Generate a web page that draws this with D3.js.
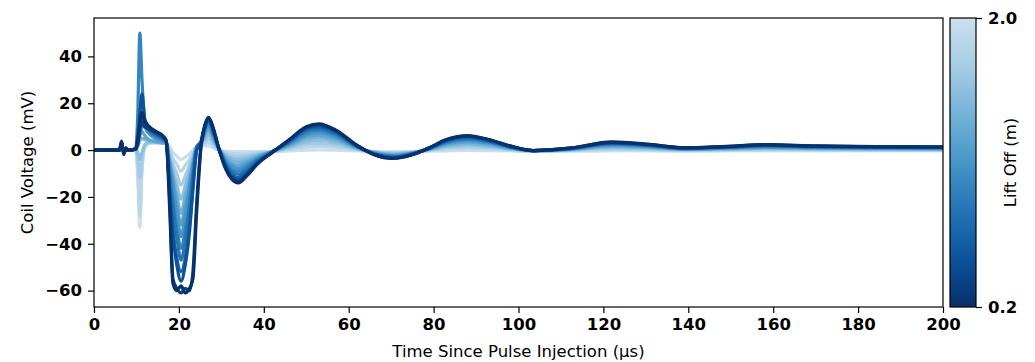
<html>
<head>
<style>
  body { margin: 0; background: #fff; }
  text { font-family: "DejaVu Sans", sans-serif; }
</style>
</head>
<body>
<script src="https://d3js.org/d3.v7.min.js"></script>
<div id="my_dataviz"></div>
<script>
// sample times (µs), shared by all curves
var timeUs = [0, 6, 6.5, 7, 7.5, 8,
  9.8, 10.3, 10.8, 11.3, 12, 13,
  14.5, 16, 17, 17.8, 18.6, 19.5,
  20.5, 21.5, 22.5, 23.3, 24.2, 25.2,
  26.2, 27, 28, 29.5, 31, 32.5,
  34, 36, 38.5, 42, 46, 50,
  53, 57, 62, 66, 70.5, 75,
  79, 83, 88, 93, 98, 103.5,
  112, 122, 131, 139, 149, 158.5,
  170, 185, 200];

// lift off of each curve (m)
var liftOff = [0.2, 0.35, 0.5, 0.65, 0.8, 0.95, 1.1, 1.25, 1.4, 1.55, 1.7, 1.85, 2.0];

// coil voltage (mV), one array per lift off
var v020 = [0, 0, 3.5, -1.5, 1, 0,
  0.5, 4, 12, 16, 12, 10,
  8, 6.5, 4, -24, -57, -60,
  -58, -61, -59, -55, -26, 1,
  11, 14, 10, 0, -8, -12.5,
  -14, -11, -6, -1, 4.5, 10,
  11.2, 8.5, 2, -2, -3.6, -2,
  1, 4.5, 6.2, 4.5, 1.8, -0.2,
  0.8, 3.5, 2.4, 1, 1.6, 2.3,
  1.8, 1.5, 1.4];
var v035 = [0, 0, 3.8, -2, 0.8, 0,
  0.5, 3, 9, 12, 10, 9,
  7.5, 6, 4, -20, -55, -59,
  -61, -59, -60, -52, -22, 2,
  11, 13.8, 9.6, 0, -7.6, -12,
  -13.4, -10.5, -5.7, -1, 4.3, 9.7,
  10.9, 8.2, 1.9, -1.9, -3.5, -1.9,
  1, 4.4, 6, 4.4, 1.7, -0.2,
  0.8, 3.3, 2.3, 0.9, 1.5, 2.2,
  1.7, 1.4, 1.3];
var v050 = [0, 0, 3.2, -1.2, 0.6, 0,
  0.5, 6, 16, 24, 13, 10,
  8, 6, 4, -17, -36, -49,
  -56, -49, -35, -17, 0, 3,
  10.8, 13.5, 9.2, 0, -7.2, -11.4,
  -12.6, -10, -5.4, -0.9, 4.1, 9.3,
  10.4, 7.9, 1.8, -1.8, -3.3, -1.8,
  0.9, 4.2, 5.8, 4.2, 1.6, -0.2,
  0.7, 3.2, 2.2, 0.9, 1.4, 2.1,
  1.6, 1.3, 1.2];
var v065 = [0, 0, 3, -1, 0.5, 0,
  0.4, 3, 10, 14, 11, 9,
  7, 5.5, 4, -16, -34, -46,
  -52, -46, -32, -16, 0, 3.5,
  10.2, 13, 8.7, 0.2, -6.6, -10.5,
  -11.6, -9.2, -5, -0.8, 3.8, 8.8,
  9.8, 7.5, 1.7, -1.7, -3.1, -1.7,
  0.8, 3.9, 5.4, 4, 1.5, -0.2,
  0.7, 3, 2.1, 0.8, 1.3, 2,
  1.5, 1.2, 1.1];
var v080 = [0, 0, 2.6, -0.8, 0.4, 0,
  0.4, 2.5, 7, 10, 10, 8,
  6.5, 5, 3.5, -10, -24, -37,
  -47, -38, -24, -11, 1, 3.5,
  9.6, 12.4, 8.1, 0.3, -5.9, -9.4,
  -10.3, -8.2, -4.5, -0.7, 3.5, 8.1,
  9.1, 6.9, 1.6, -1.6, -2.9, -1.6,
  0.7, 3.6, 5, 3.7, 1.4, -0.2,
  0.6, 2.8, 1.9, 0.7, 1.2, 1.8,
  1.4, 1.1, 1];
var v095 = [0, 0, 2.3, -0.6, 0.3, 0,
  0.5, 15, 50, 30, 12, 8,
  6, 4.5, 3.5, -9, -22, -33,
  -42, -34, -22, -10, 1, 3.5,
  9, 11.6, 7.4, 0.3, -5.1, -8.2,
  -9, -7.2, -4, -0.7, 3.1, 7.3,
  8.3, 6.3, 1.4, -1.5, -2.7, -1.5,
  0.6, 3.3, 4.6, 3.4, 1.2, -0.2,
  0.5, 2.5, 1.7, 0.6, 1.1, 1.6,
  1.2, 1, 0.9];
var v110 = [0, 0, 2, -0.5, 0.3, 0,
  0.4, 4, 14, 20, 10, 7,
  5, 4, 3, -6, -15, -26,
  -37, -27, -16, -7, 1.5, 3.5,
  8.2, 10.6, 6.6, 0.3, -4.4, -7,
  -7.8, -6.2, -3.5, -0.6, 2.7, 6.5,
  7.4, 5.6, 1.2, -1.3, -2.5, -1.4,
  0.5, 2.9, 4.1, 3, 1.1, -0.2,
  0.4, 2.2, 1.5, 0.5, 0.9, 1.4,
  1, 0.8, 0.7];
var v125 = [0, 0, 1.7, -0.4, 0.2, 0,
  0.3, 2, 6, 8, 6, 4.5,
  3.8, 3.3, 3, -5, -13, -22,
  -32, -23, -14, -6, 1.5, 3.3,
  7.2, 9.4, 5.8, 0.3, -3.7, -5.9,
  -6.5, -5.2, -3, -0.6, 2.3, 5.6,
  6.4, 4.8, 1, -1.2, -2.2, -1.3,
  0.4, 2.5, 3.5, 2.6, 0.9, -0.2,
  0.3, 1.9, 1.3, 0.4, 0.8, 1.2,
  0.9, 0.7, 0.6];
var v140 = [0, 0, 1.4, -0.3, 0.2, 0,
  0.3, 1.5, 4, 5, 4.5, 4,
  3.5, 3.2, 3, -4, -11, -19,
  -27, -19, -12, -5, 1.5, 3,
  6.2, 8, 4.9, 0.2, -2.9, -4.7,
  -5.2, -4.2, -2.5, -0.6, 1.8, 4.6,
  5.3, 4, 0.8, -1, -1.9, -1.1,
  0.3, 2, 2.9, 2.1, 0.7, -0.3,
  0.2, 1.5, 1, 0.3, 0.6, 0.9,
  0.7, 0.5, 0.4];
var v155 = [0, 0, 1.1, -0.2, 0.1, 0,
  0.2, -1, -4, -1, 2.5, 3.5,
  3.3, 3, 3, -3, -9, -14.5,
  -21, -15, -9, -3.5, 1.5, 2.8,
  5, 6.4, 3.9, 0.2, -2.2, -3.5,
  -4, -3.2, -2, -0.6, 1.3, 3.5,
  4.1, 3.1, 0.6, -0.9, -1.6, -1,
  0.2, 1.5, 2.2, 1.6, 0.5, -0.3,
  0.1, 1.1, 0.7, 0.2, 0.4, 0.7,
  0.5, 0.3, 0.3];
var v170 = [0, 0, 0.9, -0.2, 0.1, 0,
  0.2, -3, -12, -4, 2, 3.2,
  3.2, 3, 3, -1.5, -6, -10,
  -15, -11, -6.5, -2.5, 1.5, 2.5,
  3.8, 4.8, 2.9, 0.1, -1.5, -2.4,
  -2.8, -2.3, -1.5, -0.6, 0.8, 2.4,
  2.9, 2.1, 0.3, -0.8, -1.3, -0.9,
  0, 1, 1.5, 1.1, 0.3, -0.4,
  0, 0.7, 0.4, 0, 0.2, 0.4,
  0.3, 0.1, 0.1];
var v185 = [0, 0, 0.7, -0.1, 0.1, 0,
  0.2, -8, -28, -9, 1.5, 3,
  3.2, 3.2, 3, 0, -3.5, -6,
  -9, -6.5, -4, -1, 1.5, 2.2,
  2.7, 3.2, 1.9, 0, -0.9, -1.4,
  -1.6, -1.4, -1, -0.6, 0.3, 1.2,
  1.6, 1.1, 0, -0.7, -1, -0.8,
  -0.2, 0.4, 0.8, 0.5, 0, -0.5,
  -0.2, 0.3, 0.1, -0.2, 0, 0.1,
  0, -0.1, -0.1];
var v200 = [0, 0, 0.5, -0.1, 0, 0,
  0.2, -12, -33, -8, 1, 2.8,
  3.3, 3.4, 3, 1.5, -1, -2.5,
  -4, -3, -1.5, 0, 1.5, 2,
  1.8, 1.8, 1, -0.2, -0.5, -0.6,
  -0.6, -0.6, -0.6, -0.6, -0.3, 0,
  0.1, 0, -0.4, -0.6, -0.7, -0.7,
  -0.5, -0.3, -0.1, -0.2, -0.4, -0.6,
  -0.5, -0.3, -0.4, -0.5, -0.4, -0.3,
  -0.4, -0.4, -0.4];
var voltages = [v020, v035, v050, v065, v080, v095, v110, v125, v140, v155, v170, v185, v200];

// tick labels
var xTicks = [0, 20, 40, 60, 80, 100, 120, 140, 160, 180, 200];
var yTicks = [-60, -40, -20, 0, 20, 40];
var cbarTicks = [0.2, 2.0];

// set the dimensions and margins of the graph
var margin = {top: 18, right: 92, bottom: 55, left: 94},
    width = 1035 - margin.left - margin.right,
    height = 362 - margin.top - margin.bottom;

var svg = d3.select("#my_dataviz")
  .append("svg")
    .attr("width", 1035)
    .attr("height", 362)
  .append("g")
    .attr("transform", "translate(" + margin.left + "," + margin.top + ")");

var x = d3.scaleLinear().domain([0, 200]).range([0, width]);
var y = d3.scaleLinear().domain([-67, 56.4]).range([height, 0]);

// lift off -> colour (light for far, dark for near)
var colorT = d3.scaleLinear().domain([0.2, 2.0]).range([1.0, 0.22]);
function liftColor(h) { return d3.interpolateBlues(colorT(h)); }

var line = d3.line()
  .x(function(d) { return x(d[0]); })
  .y(function(d) { return y(d[1]); })
  .curve(d3.curveMonotoneX);

svg.append("clipPath").attr("id", "clip")
  .append("rect").attr("width", width).attr("height", height);

// draw far curves first so the near ones sit on top
var order = d3.range(liftOff.length).reverse();
svg.append("g").attr("clip-path", "url(#clip)")
  .selectAll("path")
  .data(order)
  .enter()
  .append("path")
    .attr("fill", "none")
    .attr("stroke", function(i) { return liftColor(liftOff[i]); })
    .attr("stroke-width", 3.2)
    .attr("stroke-linejoin", "round")
    .attr("d", function(i) { return line(timeUs.map(function(t, j) { return [t, voltages[i][j]]; })); });

// axes
var xAxis = svg.append("g")
  .attr("transform", "translate(0," + height + ")")
  .call(d3.axisBottom(x).tickValues(xTicks).tickSize(6).tickPadding(5).tickFormat(d3.format("d")));
var yAxis = svg.append("g")
  .call(d3.axisLeft(y).tickValues(yTicks).tickSize(6).tickPadding(6).tickFormat(d3.format("d")));
[xAxis, yAxis].forEach(function(a) {
  a.selectAll("text").style("font-size", "16.5px").style("font-weight", "bold").attr("fill", "#000");
  a.selectAll("line").attr("stroke-width", 1.2);
  a.select(".domain").remove();
});

// frame
svg.append("rect")
  .attr("width", width).attr("height", height)
  .attr("fill", "none").attr("stroke", "#000").attr("stroke-width", 1.2);

svg.append("text")
  .attr("x", width / 2).attr("y", height + 50)
  .attr("text-anchor", "middle")
  .style("font-size", "16.5px")
  .text("Time Since Pulse Injection (µs)");

svg.append("text")
  .attr("transform", "translate(-61," + (height / 2) + ")rotate(-90)")
  .attr("text-anchor", "middle")
  .style("font-size", "16.5px")
  .text("Coil Voltage (mV)");

// colorbar
var cb = svg.append("g").attr("transform", "translate(" + (width + 7) + ",0)");
var cbWidth = 26;
var cScale = d3.scaleLinear().domain([0.2, 2.0]).range([height, 0]);
var grad = svg.append("defs").append("linearGradient")
  .attr("id", "cbgrad").attr("x1", 0).attr("y1", 1).attr("x2", 0).attr("y2", 0);
grad.selectAll("stop")
  .data(d3.range(0, 1.0001, 0.05))
  .enter().append("stop")
    .attr("offset", function(d) { return d; })
    .attr("stop-color", function(d) { return liftColor(0.2 + d * 1.8); });
cb.append("rect")
  .attr("width", cbWidth).attr("height", height)
  .attr("fill", "url(#cbgrad)")
  .attr("stroke", "#000").attr("stroke-width", 1.2);
var cbAxis = cb.append("g")
  .attr("transform", "translate(" + cbWidth + ",0)")
  .call(d3.axisRight(cScale).tickValues(cbarTicks).tickSize(6).tickPadding(6).tickFormat(d3.format(".1f")));
cbAxis.select(".domain").remove();
cbAxis.selectAll("text").style("font-size", "16.5px").style("font-weight", "bold").attr("fill", "#000");
cbAxis.selectAll("line").attr("stroke-width", 1.2);
cb.append("text")
  .attr("transform", "translate(" + (cbWidth + 40) + "," + (height / 2) + ")rotate(-90)")
  .attr("text-anchor", "middle")
  .style("font-size", "16.5px")
  .text("Lift Off (m)");
</script>
</body>
</html>
